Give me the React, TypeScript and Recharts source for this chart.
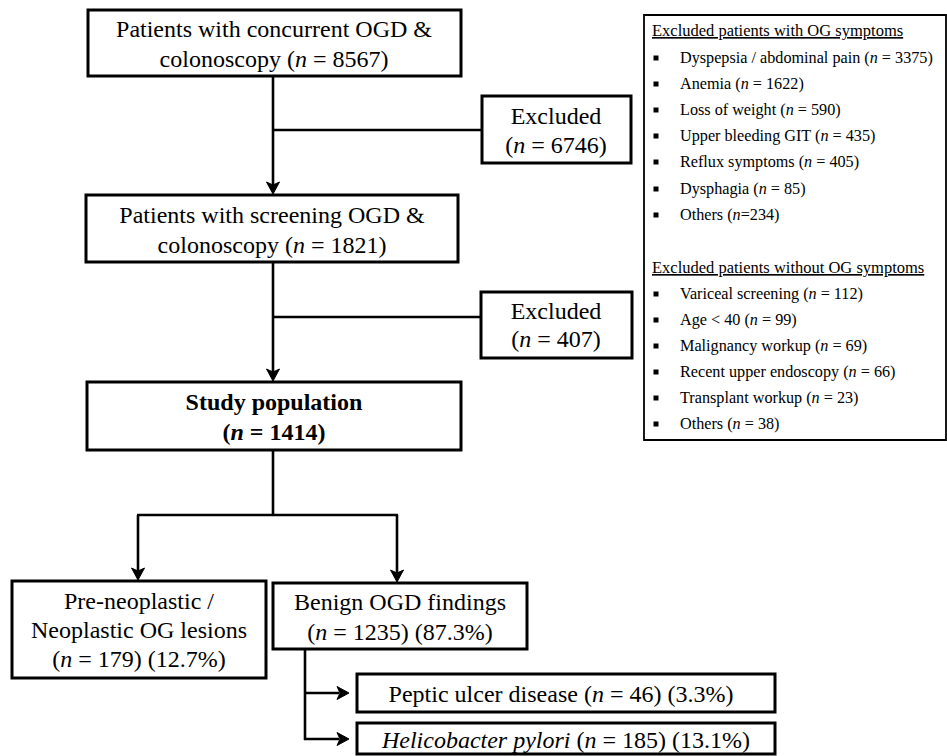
import React from "react";
import { ComposedChart, XAxis, YAxis, Scatter, ReferenceArea, ReferenceLine } from "recharts";

// ---------------- data ----------------
const stageLines = [
  ["Patients with concurrent OGD &", "colonoscopy"],
  ["Patients with screening OGD &", "colonoscopy"],
  ["Study population"],
];
const stageCounts = [8567, 1821, 1414];
const excludedLabel = "Excluded";
const excludedCounts = [6746, 407];
const outcomeLines = [["Pre-neoplastic /", "Neoplastic OG lesions"], ["Benign OGD findings"]];
const outcomeCounts = [179, 1235];
const outcomePercents = ["12.7", "87.3"];
const benignFindings = ["Peptic ulcer disease", "Helicobacter pylori"];
const benignCounts = [46, 185];
const benignPercents = ["3.3", "13.1"];
const groupTitles = ["Excluded patients with OG symptoms", "Excluded patients without OG symptoms"];
const symptomReasons = [
  "Dyspepsia / abdominal pain",
  "Anemia",
  "Loss of weight",
  "Upper bleeding GIT",
  "Reflux symptoms",
  "Dysphagia",
  "Others",
];
const symptomCounts = [3375, 1622, 590, 435, 405, 85, 234];
const symptomCompact = [false, false, false, false, false, false, true];
const otherReasons = [
  "Variceal screening",
  "Age < 40",
  "Malignancy workup",
  "Recent upper endoscopy",
  "Transplant workup",
  "Others",
];
const otherCounts = [112, 99, 69, 66, 23, 38];

// ---------------- layout ----------------
const W = 947;
const H = 756;
const FONT = "'Liberation Serif', 'Times New Roman', Times, serif";

type Part = { t: string; i?: boolean };
const nParts = (c: number | string, tail = "", sep = " = "): Part[] => [
  { t: "(" },
  { t: "n", i: true },
  { t: `${sep}${c})${tail}` },
];

// boxes: [x1, x2, y1, y2]
const boxRects: number[][] = [
  [88, 461, 10, 76],
  [482, 631, 96, 163],
  [86, 458, 195, 262],
  [481, 632, 292, 358],
  [87, 461, 382, 450],
  [12, 266, 581, 678],
  [273, 527, 583, 649],
  [357, 775, 674, 712],
  [357, 775, 723, 754],
];
const panelRect = [644, 946, 15, 440];

const segments: number[][] = [
  [273, 76, 273, 186],
  [273, 130, 482, 130],
  [273, 262, 273, 373],
  [273, 317, 481, 317],
  [273, 450, 273, 515],
  [137, 515, 398, 515],
  [138, 515, 138, 572],
  [397, 515, 397, 574],
  [305, 649, 305, 740],
  [304, 693, 339, 693],
  [304, 739, 339, 739],
];

const arrowHeads = [
  { x: 273, y: 194, dir: "down" },
  { x: 273, y: 381, dir: "down" },
  { x: 138, y: 580, dir: "down" },
  { x: 397, y: 582, dir: "down" },
  { x: 349, y: 693, dir: "right" },
  { x: 349, y: 739, dir: "right" },
];

type TextItem = {
  x: number;
  y: number;
  size: number;
  bold?: boolean;
  underline?: boolean;
  anchor?: string;
  parts: Part[];
};

const texts: TextItem[] = [];
// stage 0
texts.push({ x: 274, y: 37, size: 24, parts: [{ t: stageLines[0][0] }] });
texts.push({ x: 274, y: 67, size: 24, parts: [{ t: stageLines[0][1] + " " }, ...nParts(stageCounts[0])] });
// excluded 0
texts.push({ x: 556, y: 124, size: 24, parts: [{ t: excludedLabel }] });
texts.push({ x: 556, y: 153, size: 24, parts: nParts(excludedCounts[0]) });
// stage 1
texts.push({ x: 272, y: 223, size: 24, parts: [{ t: stageLines[1][0] }] });
texts.push({ x: 272, y: 253, size: 24, parts: [{ t: stageLines[1][1] + " " }, ...nParts(stageCounts[1])] });
// excluded 1
texts.push({ x: 556, y: 319, size: 24, parts: [{ t: excludedLabel }] });
texts.push({ x: 556, y: 347, size: 24, parts: nParts(excludedCounts[1]) });
// study
texts.push({ x: 274, y: 410, size: 24, bold: true, parts: [{ t: stageLines[2][0] }] });
texts.push({ x: 274, y: 440, size: 24, bold: true, parts: nParts(stageCounts[2]) });
// outcomes
texts.push({ x: 139, y: 609, size: 24, parts: [{ t: outcomeLines[0][0] }] });
texts.push({ x: 139, y: 638, size: 24, parts: [{ t: outcomeLines[0][1] }] });
texts.push({ x: 139, y: 667, size: 24, parts: nParts(outcomeCounts[0], ` (${outcomePercents[0]}%)`) });
texts.push({ x: 400, y: 610, size: 24, parts: [{ t: outcomeLines[1][0] }] });
texts.push({ x: 400, y: 640, size: 24, parts: nParts(outcomeCounts[1], ` (${outcomePercents[1]}%)`) });
// benign sub findings
texts.push({
  x: 561,
  y: 702,
  size: 24,
  parts: [{ t: benignFindings[0] + " " }, ...nParts(benignCounts[0], ` (${benignPercents[0]}%)`)],
});
texts.push({
  x: 566,
  y: 748,
  size: 24,
  parts: [{ t: benignFindings[1], i: true }, { t: " " }, ...nParts(benignCounts[1], ` (${benignPercents[1]}%)`)],
});

// panel
const PANEL_TEXT_X = 680;
const BULLET_X = 656;
const group1Baselines = [63, 89, 115, 141, 167, 194, 220];
const group2Baselines = [299, 325, 351, 377, 403, 429];
texts.push({ x: 652, y: 36, size: 16.5, anchor: "start", underline: true, parts: [{ t: groupTitles[0] }] });
texts.push({ x: 652, y: 273, size: 16.5, anchor: "start", underline: true, parts: [{ t: groupTitles[1] }] });
const bullets: { x: number; y: number }[] = [];
symptomReasons.forEach((r, k) => {
  const y = group1Baselines[k];
  texts.push({
    x: PANEL_TEXT_X,
    y,
    size: 16.2,
    anchor: "start",
    parts: [{ t: r + " " }, ...nParts(symptomCounts[k], "", symptomCompact[k] ? "=" : " = ")],
  });
  bullets.push({ x: BULLET_X, y: y - 5 });
});
otherReasons.forEach((r, k) => {
  const y = group2Baselines[k];
  texts.push({
    x: PANEL_TEXT_X,
    y,
    size: 16.2,
    anchor: "start",
    parts: [{ t: r + " " }, ...nParts(otherCounts[k])],
  });
  bullets.push({ x: BULLET_X, y: y - 5 });
});

// ---------------- renderers ----------------
const renderText = (props: any) => {
  const { cx, cy, payload } = props;
  const p = payload as TextItem;
  return (
    <text
      x={cx}
      y={cy}
      textAnchor={p.anchor || "middle"}
      fontFamily={FONT}
      fontSize={p.size}
      fontWeight={p.bold ? "bold" : "normal"}
      fill="#000"
      textDecoration={p.underline ? "underline" : undefined}
      style={{ whiteSpace: "pre" }}
    >
      {p.parts.map((pt, i) => (
        <tspan key={i} fontStyle={pt.i ? "italic" : "normal"}>
          {pt.t}
        </tspan>
      ))}
    </text>
  );
};

const renderArrow = (props: any) => {
  const { cx, cy, payload } = props;
  const L = 12;
  const hw = 6.5;
  const notch = 3;
  let pts: string;
  if (payload.dir === "down") {
    pts = `${cx},${cy} ${cx - hw},${cy - L} ${cx},${cy - L + notch} ${cx + hw},${cy - L}`;
  } else {
    pts = `${cx},${cy} ${cx - L},${cy - hw} ${cx - L + notch},${cy} ${cx - L},${cy + hw}`;
  }
  return <polygon points={pts} fill="#000" stroke="#000" strokeWidth={1} strokeLinejoin="miter" />;
};

const renderBullet = (props: any) => {
  const { cx, cy } = props;
  return <rect x={cx - 2.5} y={cy - 2.5} width={5} height={5} fill="#000" />;
};

export default function App() {
  return (
    <div style={{ position: "absolute", left: 0, top: 0, width: W, height: H, background: "#fff" }}>
      <ComposedChart width={W} height={H} margin={{ top: 0, right: 0, bottom: 0, left: 0 }}>
        <XAxis type="number" dataKey="x" domain={[0, W]} hide allowDataOverflow />
        <YAxis type="number" dataKey="y" domain={[0, H]} reversed hide allowDataOverflow />
        {segments.map((s, i) => (
          <ReferenceLine
            key={`seg${i}`}
            segment={[
              { x: s[0], y: s[1] },
              { x: s[2], y: s[3] },
            ]}
            stroke="#000"
            strokeWidth={2.6}
            ifOverflow="visible"
          />
        ))}
        {boxRects.map((b, i) => (
          <ReferenceArea
            key={`box${i}`}
            x1={b[0]}
            x2={b[1]}
            y1={b[2]}
            y2={b[3]}
            fill="#fff"
            fillOpacity={1}
            stroke="#000"
            strokeWidth={3}
            ifOverflow="visible"
          />
        ))}
        <ReferenceArea
          x1={panelRect[0]}
          x2={panelRect[1]}
          y1={panelRect[2]}
          y2={panelRect[3]}
          fill="#fff"
          fillOpacity={1}
          stroke="#000"
          strokeWidth={1.8}
          ifOverflow="visible"
        />
        <Scatter data={arrowHeads} shape={renderArrow} isAnimationActive={false} />
        <Scatter data={bullets} shape={renderBullet} isAnimationActive={false} />
        <Scatter data={texts} shape={renderText} isAnimationActive={false} />
      </ComposedChart>
    </div>
  );
}
